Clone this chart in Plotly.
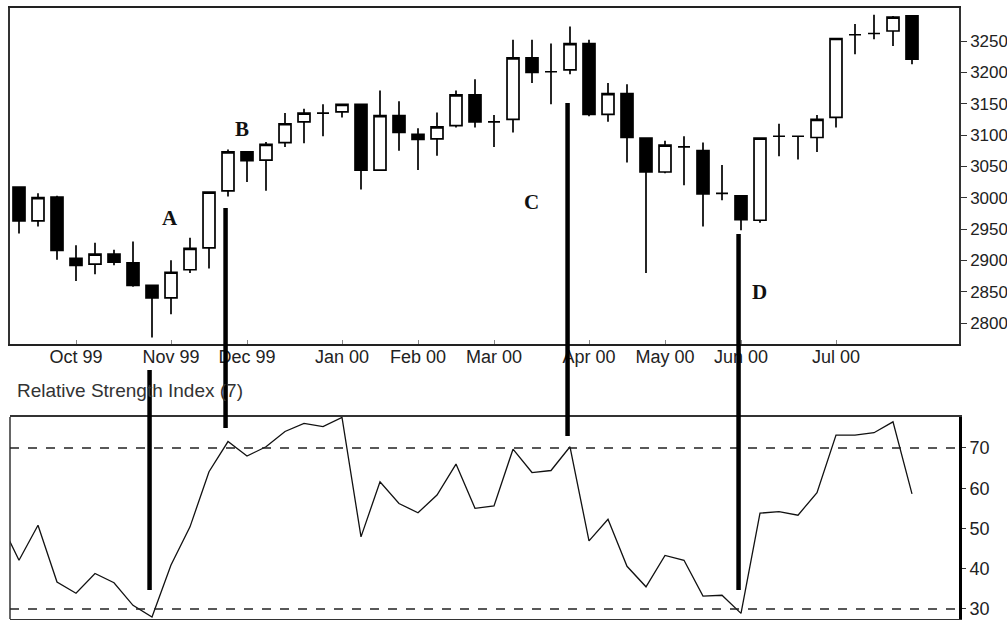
import pandas as pd
import plotly.graph_objects as go
from plotly.subplots import make_subplots

# ---- data (weekly bars, week ending Friday) ----
week_ends = pd.date_range("1999-09-03", periods=49, freq="W-FRI")
rsi_dates = list(week_ends)          # includes one week before the first bar
bar_dates = list(week_ends[1:])

opens  = [3017, 2963, 3001, 2903, 2894, 2910, 2896, 2860, 2840, 2885,
          2920, 3011, 3073, 3060, 3088, 3121, 3135, 3137, 3149, 3044,
          3131, 3101, 3094, 3115, 3164, 3121, 3125, 3223, 3201, 3204,
          3246, 3133, 3166, 3095, 3041, 3081, 3075, 3007, 3003, 2964,
          3098, 3098, 3096, 3128, 3260, 3262, 3266, 3290]
highs  = [3018, 3007, 3003, 2924, 2928, 2917, 2930, 2861, 2900, 2936,
          3010, 3077, 3074, 3089, 3135, 3142, 3149, 3150, 3150, 3171,
          3154, 3111, 3136, 3171, 3189, 3132, 3252, 3252, 3246, 3273,
          3252, 3183, 3181, 3096, 3091, 3098, 3088, 3052, 3004, 3096,
          3118, 3099, 3132, 3255, 3277, 3292, 3290, 3291]
lows   = [2943, 2954, 2901, 2867, 2878, 2892, 2858, 2777, 2814, 2880,
          2887, 3002, 3025, 3011, 3081, 3087, 3098, 3128, 3013, 3043,
          3075, 3044, 3067, 3112, 3112, 3081, 3104, 3183, 3149, 3197,
          3130, 3121, 3056, 2880, 3039, 3020, 2954, 2996, 2948, 2960,
          3066, 3061, 3073, 3112, 3229, 3253, 3242, 3213]
closes = [2963, 3000, 2916, 2892, 2910, 2897, 2860, 2840, 2881, 2919,
          3009, 3073, 3059, 3085, 3118, 3135, 3135, 3149, 3044, 3131,
          3104, 3093, 3113, 3164, 3121, 3121, 3223, 3200, 3201, 3246,
          3133, 3166, 3096, 3041, 3084, 3081, 3006, 3007, 2965, 3095,
          3098, 3098, 3125, 3254, 3260, 3262, 3288, 3221]

rsi = [51.8,
       42.1, 50.8, 36.7, 33.9, 38.8, 36.5, 30.9, 28.0, 40.9, 50.4,
       64.1, 71.6, 68.0, 70.3, 74.1, 76.1, 75.3, 77.6, 47.9, 61.6,
       56.2, 53.9, 58.3, 66.0, 55.0, 55.6, 69.7, 63.9, 64.4, 70.3,
       46.9, 52.3, 40.6, 35.5, 43.3, 42.1, 33.2, 33.4, 28.9, 53.8,
       54.2, 53.3, 58.9, 73.2, 73.2, 73.8, 76.5, 58.6]

month_ticks = ["1999-10-01", "1999-11-05", "1999-12-03", "2000-01-07", "2000-02-04",
               "2000-03-03", "2000-04-07", "2000-05-05", "2000-06-02", "2000-07-07"]
month_labels = ["Oct 99", "Nov 99", "Dec 99", "Jan 00", "Feb 00",
                "Mar 00", "Apr 00", "May 00", "Jun 00", "Jul 00"]

price_ticks = [2800, 2850, 2900, 2950, 3000, 3050, 3100, 3150, 3200, 3250]
rsi_ticks = [30, 40, 50, 60, 70]
rsi_levels = [70, 30]

signal_dates = ["1999-10-29", "1999-11-26", "2000-03-31", "2000-06-02"]
signal_labels = ["A", "B", "C", "D"]

# ---- figure ----
W, H = 1007, 620
m_l, m_r, m_t, m_b = 10, 48, 8, 1
ph = H - m_t - m_b
def py(pix):
    return (H - m_b - pix) / ph
def px(pix):
    return (pix - m_l) / (W - m_l - m_r)

fig = make_subplots(rows=2, cols=1, shared_xaxes=False)

fig.add_trace(go.Candlestick(
    x=bar_dates, open=opens, high=highs, low=lows, close=closes,
    increasing=dict(fillcolor="white", line=dict(color="black", width=1.7)),
    decreasing=dict(fillcolor="black", line=dict(color="black", width=1.7)),
    whiskerwidth=0, showlegend=False, hoverinfo="x+y",
), row=1, col=1)

fig.add_trace(go.Scatter(
    x=rsi_dates, y=rsi, mode="lines",
    line=dict(color="#111111", width=1.3), showlegend=False,
), row=2, col=1)

step = pd.Timedelta(days=7)
x0 = bar_dates[0] - step * (9 / 19)
x1 = bar_dates[0] + step * (940 / 19)

font_axis = dict(family="Liberation Sans, Arial, sans-serif", size=18, color="#222222")
font_right = dict(family="Liberation Sans, Arial, sans-serif", size=17, color="#222222")

fig.update_layout(
    width=W, height=H,
    margin=dict(l=m_l, r=m_r, t=m_t, b=m_b, autoexpand=False),
    paper_bgcolor="white", plot_bgcolor="white",
    boxgap=0.37, boxgroupgap=0,
    xaxis=dict(domain=[0, 1], range=[x0, x1], type="date", automargin=False,
               rangeslider=dict(visible=False),
               tickvals=month_ticks, ticktext=month_labels,
               ticks="inside", ticklen=4, tickcolor="#888888",
               ticklabelstandoff=-5,
               tickfont=font_axis, showgrid=False, zeroline=False,
               showline=True, linecolor="#222222", linewidth=2, mirror=True,
               anchor="y"),
    yaxis=dict(domain=[py(344), py(8)], range=[2766.5, 3302.7], side="right",
               automargin=False,
               tickvals=price_ticks, ticks="outside", ticklen=6, tickcolor="#333333",
               tickfont=font_right, showgrid=False, zeroline=False,
               showline=True, linecolor="#333333", linewidth=1.5, mirror=True,
               anchor="x"),
    xaxis2=dict(domain=[0, 1], range=[x0, x1], type="date", automargin=False,
                showticklabels=False, ticks="", showgrid=False, zeroline=False,
                showline=True, linecolor="#333333", linewidth=1.5, mirror=True,
                anchor="y2"),
    yaxis2=dict(domain=[0, py(417)], range=[27.5, 77.7], side="right",
                automargin=False,
                tickvals=rsi_ticks, ticks="outside", ticklen=4, tickcolor="#333333",
                tickfont=font_axis, showgrid=False, zeroline=False,
                showline=True, linecolor="black", linewidth=3, mirror=False,
                anchor="x2"),
)

# RSI left border (thin) since right axis line is thick
fig.add_shape(type="line", xref="x2 domain", yref="y2 domain", x0=0, x1=0, y0=0, y1=1,
              line=dict(color="#333333", width=1.5))

# overbought / oversold reference levels
for lvl in rsi_levels:
    fig.add_shape(type="line", xref="x2 domain", yref="y2", x0=0, x1=1.005, y0=lvl, y1=lvl,
                  line=dict(color="#222222", width=1.5, dash="dash"))

# thick signal lines connecting price and RSI
line_spans = [(370, 590), (208, 428), (103, 436), (234, 590)]
for d, (ytop, ybot) in zip(signal_dates, line_spans):
    xd = pd.Timestamp(d) - pd.Timedelta(days=0.9)
    fig.add_shape(type="line", xref="x", yref="paper", x0=xd, x1=xd,
                  y0=py(ytop), y1=py(ybot), line=dict(color="black", width=4.5))

# letter labels
letter_pos = [(160, 218), (233, 115), (531, 188), (769, 292)]
for lab, (lx, ly) in zip(signal_labels, letter_pos):
    fig.add_annotation(text=f"<b>{lab}</b>", xref="paper", yref="paper",
                       x=px(lx), y=py(ly), showarrow=False,
                       font=dict(family="Liberation Serif, Times New Roman, serif",
                                 size=21, color="#111111"))

fig.add_annotation(text="Relative Strength Index (7)", xref="paper", yref="paper",
                   x=px(15), y=py(391), xanchor="left", yanchor="middle", showarrow=False,
                   font=dict(family="Liberation Sans, Arial, sans-serif", size=19, color="#333333"))

fig.write_html("out.html", config={"displayModeBar": False},
               post_script="document.body.style.margin='0';document.body.style.overflow='hidden';")
